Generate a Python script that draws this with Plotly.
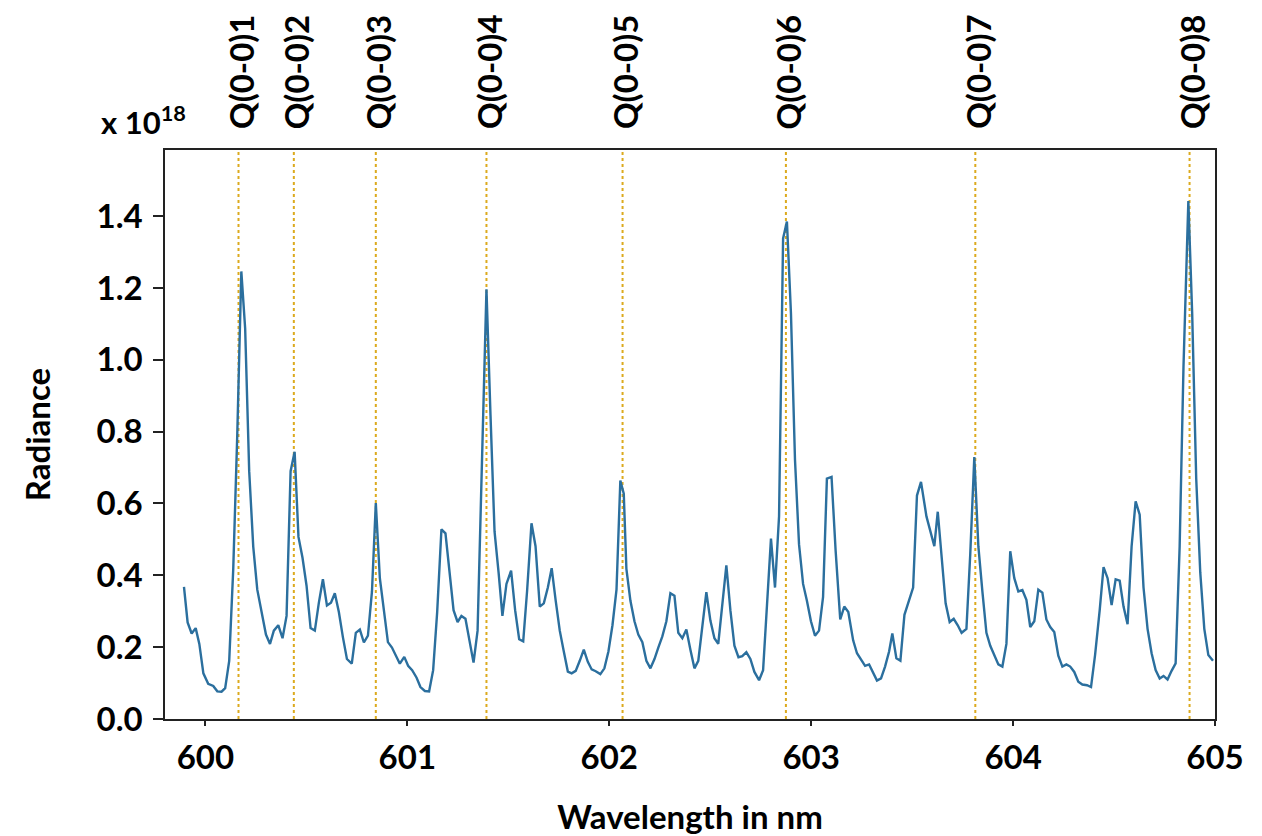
import plotly.graph_objects as go

# Wavelength (nm) and radiance (x 1e18)
wavelength = [
    599.894, 599.912, 599.932, 599.952, 599.970, 599.990, 600.014, 600.039, 600.059, 600.080,
    600.098, 600.118, 600.138, 600.158, 600.178, 600.197, 600.217, 600.237, 600.257, 600.278,
    600.300, 600.320, 600.339, 600.361, 600.382, 600.402, 600.422, 600.442, 600.461, 600.481,
    600.501, 600.521, 600.542, 600.562, 600.582, 600.602, 600.622, 600.641, 600.661, 600.681,
    600.701, 600.725, 600.745, 600.765, 600.785, 600.805, 600.825, 600.844, 600.864, 600.884,
    600.904, 600.924, 600.943, 600.963, 600.985, 601.004, 601.024, 601.046, 601.065, 601.087,
    601.108, 601.128, 601.148, 601.169, 601.189, 601.209, 601.229, 601.249, 601.268, 601.288,
    601.308, 601.328, 601.348, 601.367, 601.392, 601.412, 601.432, 601.452,
    601.471, 601.491, 601.514, 601.534, 601.554, 601.574, 601.593, 601.615, 601.635, 601.656,
    601.676, 601.696, 601.715, 601.735, 601.755, 601.775, 601.795, 601.814, 601.834, 601.854,
    601.874, 601.894, 601.913, 601.933, 601.956, 601.976, 601.996, 602.016, 602.036, 602.055,
    602.072, 602.085, 602.105, 602.125, 602.144, 602.164, 602.184, 602.204, 602.224, 602.243,
    602.263, 602.283, 602.303, 602.323, 602.342, 602.362, 602.382, 602.402, 602.422, 602.441,
    602.461, 602.481, 602.501, 602.521, 602.540, 602.560, 602.580, 602.600, 602.620, 602.640,
    602.659, 602.679, 602.699, 602.719, 602.742, 602.762, 602.781, 602.801, 602.821, 602.841,
    602.861, 602.880, 602.900, 602.920, 602.940, 602.960, 602.979, 602.999, 603.019, 603.039,
    603.059, 603.078, 603.101, 603.121, 603.144, 603.164, 603.184,
    603.208, 603.227, 603.247, 603.267, 603.287, 603.307, 603.326, 603.346, 603.366, 603.386,
    603.402, 603.422, 603.442, 603.462, 603.481, 603.505, 603.524, 603.544, 603.571, 603.590,
    603.610, 603.627, 603.646, 603.666, 603.686, 603.706, 603.726, 603.745, 603.769, 603.788,
    603.808, 603.828, 603.848, 603.868, 603.887, 603.907, 603.927, 603.947, 603.967, 603.986,
    604.006, 604.026, 604.046, 604.066, 604.085, 604.105, 604.125, 604.145, 604.165, 604.184,
    604.204, 604.224, 604.244, 604.264, 604.283, 604.303, 604.323, 604.343, 604.366, 604.386,
    604.406, 604.429, 604.448, 604.468, 604.488, 604.508, 604.528, 604.547, 604.567, 604.587,
    604.607, 604.627, 604.646, 604.666, 604.686, 604.706, 604.726, 604.745, 604.765, 604.785,
    604.805, 604.825, 604.844, 604.868, 604.887, 604.907, 604.927, 604.947, 604.967, 604.990,
]

radiance = [
    0.368, 0.269, 0.238, 0.253, 0.209, 0.127, 0.098, 0.092, 0.077, 0.076,
    0.086, 0.162, 0.418, 0.794, 1.246, 1.087, 0.690, 0.480, 0.360, 0.298,
    0.235, 0.209, 0.246, 0.261, 0.225, 0.287, 0.690, 0.744, 0.507, 0.449,
    0.371, 0.253, 0.246, 0.324, 0.389, 0.316, 0.324, 0.350, 0.298, 0.228,
    0.167, 0.154, 0.240, 0.249, 0.213, 0.232, 0.355, 0.601, 0.392, 0.303,
    0.214, 0.199, 0.178, 0.154, 0.173, 0.148, 0.136, 0.115, 0.089, 0.078,
    0.077, 0.136, 0.298, 0.528, 0.517, 0.418, 0.303, 0.270, 0.287, 0.279,
    0.219, 0.157, 0.246, 0.648, 1.196, 0.846, 0.522, 0.408,
    0.287, 0.376, 0.413, 0.303, 0.222, 0.216, 0.355, 0.545, 0.481, 0.313,
    0.322, 0.366, 0.420, 0.329, 0.246, 0.188, 0.132, 0.127, 0.134, 0.162,
    0.193, 0.159, 0.138, 0.133, 0.125, 0.141, 0.188, 0.261, 0.360, 0.664,
    0.627, 0.418, 0.329, 0.272, 0.235, 0.214, 0.162, 0.141, 0.167, 0.199,
    0.230, 0.272, 0.350, 0.343, 0.240, 0.225, 0.249, 0.193, 0.141, 0.162,
    0.251, 0.353, 0.274, 0.225, 0.209, 0.313, 0.428, 0.303, 0.204, 0.172,
    0.175, 0.186, 0.167, 0.131, 0.108, 0.136, 0.324, 0.502, 0.366, 0.564,
    1.338, 1.385, 1.129, 0.721, 0.486, 0.376, 0.329, 0.272, 0.232, 0.246,
    0.340, 0.669, 0.674, 0.470, 0.277, 0.313, 0.298,
    0.219, 0.183, 0.167, 0.148, 0.152, 0.127, 0.107, 0.113, 0.146, 0.188,
    0.238, 0.169, 0.162, 0.290, 0.324, 0.366, 0.622, 0.660, 0.564, 0.522,
    0.481, 0.577, 0.444, 0.322, 0.270, 0.279, 0.261, 0.240, 0.251, 0.460,
    0.729, 0.481, 0.355, 0.240, 0.204, 0.176, 0.152, 0.146, 0.209, 0.467,
    0.392, 0.355, 0.359, 0.332, 0.256, 0.272, 0.360, 0.352, 0.277, 0.256,
    0.242, 0.176, 0.146, 0.152, 0.146, 0.131, 0.104, 0.096, 0.094, 0.089,
    0.178, 0.303, 0.423, 0.392, 0.317, 0.389, 0.385, 0.313, 0.264, 0.481,
    0.606, 0.569, 0.366, 0.251, 0.183, 0.136, 0.113, 0.120, 0.110, 0.134,
    0.155, 0.481, 0.982, 1.442, 1.129, 0.669, 0.408, 0.251, 0.178, 0.162,
]

# Q-branch line positions (nm) and labels
line_positions = [600.164, 600.438, 600.844, 601.392, 602.066, 602.875, 603.813, 604.874]
line_labels = ["Q(0-0)1", "Q(0-0)2", "Q(0-0)3", "Q(0-0)4",
               "Q(0-0)5", "Q(0-0)6", "Q(0-0)7", "Q(0-0)8"]

x_ticks = [600, 601, 602, 603, 604, 605]
y_ticks = [0.0, 0.2, 0.4, 0.6, 0.8, 1.0, 1.2, 1.4]
y_tick_text = ["0.0", "0.2", "0.4", "0.6", "0.8", "1.0", "1.2", "1.4"]

FONT = "Lato"
BIG = 33
fig = go.Figure()

fig.add_trace(go.Scatter(
    x=wavelength, y=radiance, mode="lines",
    line=dict(color="#2b6f9e", width=2.4),
    showlegend=False, hoverinfo="x+y",
))

for pos, lab in zip(line_positions, line_labels):
    fig.add_shape(type="line", xref="x", yref="paper", x0=pos, x1=pos, y0=0, y1=1,
                  line=dict(color="#dcaa1e", width=2, dash="dot"), layer="below")
    fig.add_annotation(x=pos, xref="x", y=1, yref="paper", yanchor="bottom",
                       xanchor="center", yshift=19, xshift=2, text=lab, textangle=-90,
                       showarrow=False,
                       font=dict(family=FONT, size=BIG, color="black", weight="bold"))

fig.add_annotation(x=-0.063, xref="paper", y=1.052, yref="paper",
                   xanchor="left", yanchor="middle", showarrow=False,
                   text="x 10<sup>18</sup>",
                   font=dict(family=FONT, size=31, color="black", weight="bold"))

axis_common = dict(
    showline=True, linecolor="#222222", linewidth=1.5, mirror=True,
    showgrid=False, zeroline=False, ticks="outside", tickcolor="#222222",
    tickwidth=1.5, automargin=False,
    tickfont=dict(family=FONT, size=BIG, color="black", weight="bold"),
)

fig.update_xaxes(
    range=[599.80, 605.0], tickvals=x_ticks, ticktext=[str(v) for v in x_ticks],
    ticklen=5, ticklabelstandoff=4,
    title=dict(text="Wavelength in nm", standoff=34,
               font=dict(family=FONT, size=BIG, color="black", weight="bold")),
    **axis_common,
)
fig.update_yaxes(
    range=[0, 1.584], tickvals=y_ticks, ticktext=y_tick_text,
    ticklen=10, ticklabelstandoff=4,
    title=dict(text="Radiance", standoff=36,
               font=dict(family=FONT, size=BIG, color="black", weight="bold")),
    **axis_common,
)

fig.update_layout(
    width=1254, height=828,
    margin=dict(l=157, r=47, t=142, b=117, autoexpand=False),
    paper_bgcolor="white", plot_bgcolor="white",
    font=dict(family=FONT, color="black"),
)

fig.write_html("out.html")
